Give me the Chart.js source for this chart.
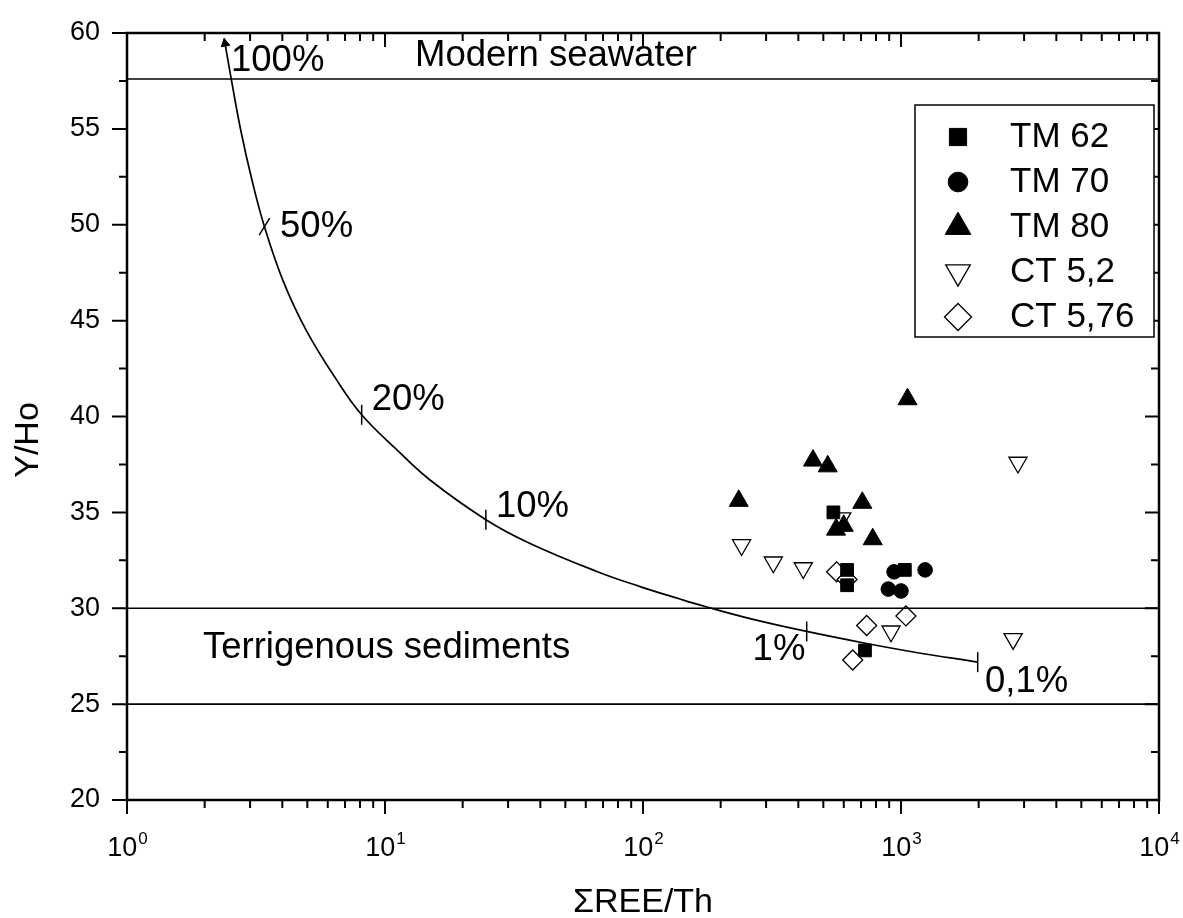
<!DOCTYPE html>
<html>
<head>
<meta charset="utf-8">
<script src="https://cdn.jsdelivr.net/npm/chart.js@4.4.0/dist/chart.umd.min.js"></script>
<style>
  body { margin: 0; background: #fff; }
  #box { width: 1183px; height: 918px; }
</style>
</head>
<body>
<div id="box"><canvas id="myChart" width="1183" height="918"></canvas></div>
<script>
const fonte = "Arial, 'Liberation Sans', sans-serif"

// eixos
const xDecadas = [1, 10, 100, 1000, 10000]
const yTicks = [20, 25, 30, 35, 40, 45, 50, 55, 60]

// amostras (ΣREE/Th, Y/Ho)
const tm62X = [547, 618, 618, 725, 1035]
const tm62Y = [35.0, 32.0, 31.2, 27.8, 32.0]
const tm70X = [940, 1240, 893, 1000]
const tm70Y = [31.9, 32.0, 31.0, 30.9]
const tm80X = [1060, 456, 520, 235, 708, 777, 560, 600]
const tm80Y = [40.9, 37.7, 37.4, 35.6, 35.5, 33.6, 34.1, 34.3]
const ct52X = [2840, 241, 320, 418, 589, 915, 2720]
const ct52Y = [37.6, 33.3, 32.4, 32.1, 34.7, 28.8, 28.4]
const ct576X = [563, 618, 736, 1045, 650]
const ct576Y = [31.9, 31.5, 29.1, 29.6, 27.3]

// curva de mistura
const mixX = [2.38, 2.54, 2.76, 3.05, 3.41, 4.02, 4.94, 6.49, 8.12, 11.1, 14.9, 24.6, 36.5, 66.2, 97.4, 139, 174, 260, 431, 736, 1116, 1983]
const mixY = [59.72, 57.54, 54.93, 52.33, 49.9, 47.1, 44.52, 41.91, 40.09, 38.27, 36.7, 34.62, 33.38, 31.92, 31.13, 30.48, 30.09, 29.46, 28.79, 28.16, 27.72, 27.19]
const marcaX = [3.41, 8.12, 24.6, 431, 1983]
const marcaY = [49.9, 40.09, 34.62, 28.79, 27.19]
const setaX = [2.40]
const setaY = [59.45]

// linhas de referência
const aguaMar = 57.6
const terrigenos = [30, 25]

const textos = [
  {t: 'Modern seawater', x: 13.07, y: 58.8},
  {t: 'Terrigenous sediments', x: 1.97, y: 27.95},
  {t: '100%', x: 2.53, y: 58.55},
  {t: '50%', x: 3.92, y: 49.9},
  {t: '20%', x: 8.88, y: 40.85},
  {t: '10%', x: 26.9, y: 35.3},
  {t: '1%', x: 266, y: 27.85},
  {t: '0,1%', x: 2117, y: 26.15}
]

const pts = (xs, ys) => xs.map((x, i) => ({x: x, y: ys[i]}))
const linhaH = (v) => ({
  data: [{x: 1, y: v}, {x: 10000, y: v}],
  showLine: true, borderColor: '#000', borderWidth: 1.6, pointRadius: 0
})

function amostra(label, xs, ys, estilo, raio, cheio, rot) {
  return {
    label: label,
    data: pts(xs, ys),
    pointStyle: estilo,
    pointRadius: raio,
    rotation: rot || 0,
    backgroundColor: cheio ? '#000' : '#fff',
    borderColor: '#000',
    borderWidth: cheio ? 1 : 1.3
  }
}

const series = [
  amostra('TM 62', tm62X, tm62Y, 'rect', 9, true),
  amostra('TM 70', tm70X, tm70Y, 'circle', 7.3, true),
  amostra('TM 80', tm80X, tm80Y, 'triangle', 11, true),
  amostra('CT 5,2', ct52X, ct52Y, 'triangle', 10.5, false, 180),
  amostra('CT 5,76', ct576X, ct576Y, 'rectRot', 10, false)
]

const desenho = {
  id: 'desenho',
  afterDraw(chart) {
    let ctx = chart.ctx
    let xs = chart.scales.x
    let ys = chart.scales.y
    let ca = chart.chartArea
    ctx.save()
    ctx.fillStyle = '#000'
    ctx.strokeStyle = '#000'

    // textos dentro do gráfico
    ctx.font = `36.5px ${fonte}`
    ctx.textBaseline = 'middle'
    ctx.textAlign = 'left'
    textos.forEach(a => ctx.fillText(a.t, xs.getPixelForValue(a.x), ys.getPixelForValue(a.y)))

    // moldura
    ctx.lineWidth = 2.5
    ctx.strokeRect(ca.left, ca.top, ca.right - ca.left, ca.bottom - ca.top)

    // ticks
    ctx.lineWidth = 2
    ctx.beginPath()
    let risco = (x1, y1, x2, y2) => { ctx.moveTo(x1, y1); ctx.lineTo(x2, y2) }
    xDecadas.forEach((d, i) => {
      let px = xs.getPixelForValue(d)
      risco(px, ca.bottom, px, ca.bottom + 14)
      risco(px, ca.top, px, ca.top + 14)
      if (i < xDecadas.length - 1) {
        for (let m = 2; m < 10; m++) {
          let p = xs.getPixelForValue(d * m)
          risco(p, ca.bottom, p, ca.bottom + 8)
          risco(p, ca.top, p, ca.top + 8)
        }
      }
    })
    yTicks.forEach((v, i) => {
      let py = ys.getPixelForValue(v)
      risco(ca.left, py, ca.left - 15, py)
      risco(ca.right, py, ca.right - 14, py)
      if (i < yTicks.length - 1) {
        let pm = ys.getPixelForValue((v + yTicks[i + 1]) / 2)
        risco(ca.left, pm, ca.left - 8, pm)
        risco(ca.right, pm, ca.right - 8, pm)
      }
    })
    ctx.stroke()

    // rótulos do eixo x com expoente
    xDecadas.forEach(d => {
      let px = xs.getPixelForValue(d)
      let exp = String(Math.round(Math.log10(d)))
      ctx.font = `27px ${fonte}`
      let w1 = ctx.measureText('10').width
      ctx.font = `17px ${fonte}`
      let w2 = ctx.measureText(exp).width
      let x0 = px - (w1 + w2) / 2
      ctx.textAlign = 'left'
      ctx.textBaseline = 'alphabetic'
      ctx.font = `27px ${fonte}`
      ctx.fillText('10', x0, ca.bottom + 56)
      ctx.font = `17px ${fonte}`
      ctx.fillText(exp, x0 + w1 + 1, ca.bottom + 44)
    })

    // títulos dos eixos
    ctx.font = `34px ${fonte}`
    ctx.textAlign = 'center'
    ctx.textBaseline = 'middle'
    ctx.fillText('ΣREE/Th', (ca.left + ca.right) / 2, ca.bottom + 103)
    ctx.save()
    ctx.translate(29, ca.top + 407)
    ctx.rotate(-Math.PI / 2)
    ctx.fillText('Y/Ho', 0, 0)
    ctx.restore()

    // legenda
    let lx = ca.right - 244, ly = ca.top + 72
    ctx.fillStyle = '#fff'
    ctx.fillRect(lx, ly, 239, 232)
    ctx.lineWidth = 1.5
    ctx.strokeRect(lx, ly, 239, 232)
    ctx.font = `35px ${fonte}`
    ctx.textAlign = 'left'
    series.forEach((s, i) => {
      let cy = ly + 32 + i * 45
      ctx.fillStyle = s.backgroundColor
      ctx.strokeStyle = s.borderColor
      ctx.lineWidth = s.borderWidth
      Chart.helpers.drawPoint(ctx, {
        pointStyle: s.pointStyle,
        radius: s.pointRadius * 1.35,
        rotation: s.rotation,
        borderWidth: s.borderWidth
      }, lx + 43, cy)
      ctx.fillStyle = '#000'
      ctx.fillText(s.label, lx + 95, cy)
    })
    ctx.restore()
  }
}

let ctx = document.getElementById('myChart').getContext('2d')
new Chart(ctx, {
  type: 'scatter',
  data: {
    datasets: [
      linhaH(aguaMar),
      linhaH(terrigenos[0]),
      linhaH(terrigenos[1]),
      {
        data: pts(mixX, mixY),
        showLine: true, borderColor: '#000', borderWidth: 1.7,
        tension: 0.4, pointRadius: 0
      },
      {
        data: pts(marcaX, marcaY),
        pointStyle: 'line', pointRadius: 10, borderColor: '#000', borderWidth: 1.5,
        rotation: [-58, 90, 90, 90, 90]
      },
      {
        data: pts(setaX, setaY),
        pointStyle: 'triangle', pointRadius: 5, rotation: -10,
        backgroundColor: '#000', borderColor: '#000', borderWidth: 1
      },
      ...series
    ]
  },
  options: {
    responsive: false,
    animation: false,
    layout: { padding: { top: 33, right: 24, left: 0, bottom: 0 } },
    plugins: { legend: { display: false }, tooltip: { enabled: false } },
    scales: {
      x: {
        type: 'logarithmic', min: 1, max: 10000,
        grid: { display: false, drawTicks: false },
        border: { display: false },
        ticks: { callback: () => '' },
        afterFit: (s) => { s.height = 118; s.paddingLeft = 0; s.paddingRight = 0 }
      },
      y: {
        min: 20, max: 60,
        grid: { display: false, drawTicks: false },
        border: { display: false },
        ticks: { stepSize: 5, color: '#000', padding: 27, font: { size: 27, family: fonte } },
        afterFit: (s) => { s.width = 127; s.paddingTop = 0; s.paddingBottom = 0 }
      }
    }
  },
  plugins: [desenho]
})
</script>
</body>
</html>
